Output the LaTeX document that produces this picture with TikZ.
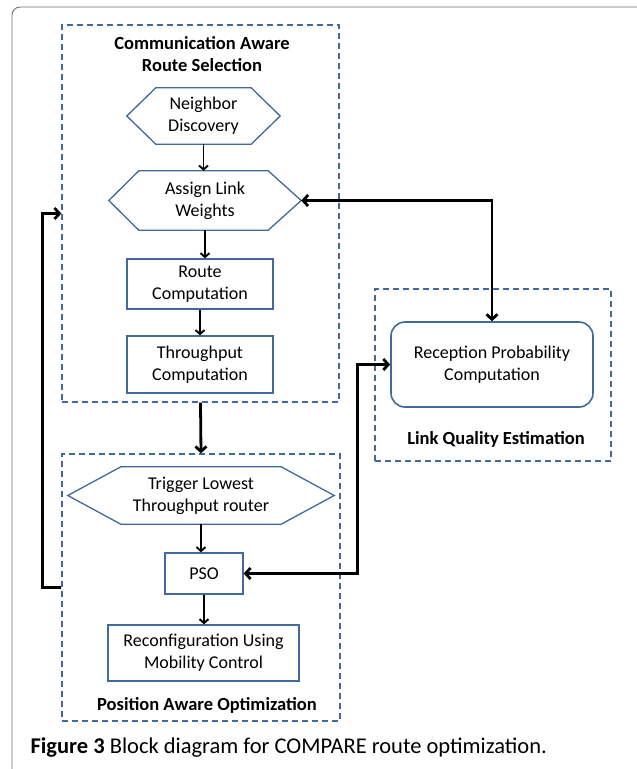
\documentclass[tikz,border=0pt]{standalone}
\usepackage{fontspec}
\setmainfont{Carlito}
\usetikzlibrary{arrows.meta}
\definecolor{bluebox}{RGB}{65,105,155}
\definecolor{framegray}{RGB}{110,110,110}
\begin{document}
\begin{tikzpicture}[x=1pt,y=-1pt,
  every node/.style={font=\fontsize{18}{22}\selectfont, align=center},
  dashbox/.style={draw=bluebox, line width=1.3pt, dash pattern=on 6pt off 4pt, inner sep=0pt, rectangle},
  stepbox/.style={draw=bluebox, line width=1.3pt, rectangle, inner sep=0pt},
  roundbox/.style={draw=bluebox, line width=1.6pt, rectangle, rounded corners=14pt, inner sep=0pt},
  hexbg/.style={inner sep=0pt, rectangle},
  hexline/.style={draw=bluebox, line width=1.3pt},
  title/.style={font=\fontsize{18.5}{22}\selectfont\bfseries},
  thinarrow/.style={draw=black, line width=1.9pt, -{Straight Barb[length=4pt,width=9pt]}},
  thickarrow/.style={draw=black, line width=2.8pt, -{Straight Barb[length=5pt,width=11pt]}},
  thickboth/.style={draw=black, line width=2.8pt, {Straight Barb[length=5pt,width=11pt]}-{Straight Barb[length=5pt,width=11pt]}}
]
\useasboundingbox (0,0) rectangle (637,769);
\fill[white] (0,0) rectangle (637,769);
% outer frame
\draw[framegray, line width=0.9pt, rounded corners=8pt] (12,800) -- (12,7) -- (660,7);

% dashed group boxes
\node[dashbox, minimum width=277pt, minimum height=377pt] (box1) at (200.5,213.5) {};
\node[dashbox, minimum width=278pt, minimum height=267pt] (box2) at (201,587.5) {};
\node[dashbox, minimum width=236pt, minimum height=172pt] (box3) at (493,375) {};

% titles
\node[title] (t1) at (202,54) {Communication Aware\\Route Selection};
\node[title] (t2) at (207,705) {Position Aware Optimization};
\node[title] (t3) at (496,439) {Link Quality Estimation};

% hexagons
\node[hexbg, minimum width=153pt, minimum height=56pt] (nd) at (203.5,116) {Neighbor\\Discovery};
\draw[hexline] (nd.west) -- ([xshift=29pt]nd.north west) -- ([xshift=-29pt]nd.north east) -- (nd.east) -- ([xshift=-29pt]nd.south east) -- ([xshift=29pt]nd.south west) -- cycle;

\node[hexbg, minimum width=192pt, minimum height=59pt] (alw) at (205,200.5) {Assign Link\\Weights};
\draw[hexline] (alw.west) -- ([xshift=30pt]alw.north west) -- ([xshift=-33pt]alw.north east) -- (alw.east) -- ([xshift=-33pt]alw.south east) -- ([xshift=30pt]alw.south west) -- cycle;

\node[hexbg, minimum width=266pt, minimum height=57pt] (tlt) at (201,495.5) {Trigger Lowest\\Throughput router};
\draw[hexline] (tlt.west) -- ([xshift=53pt]tlt.north west) -- ([xshift=-53pt]tlt.north east) -- (tlt.east) -- ([xshift=-53pt]tlt.south east) -- ([xshift=53pt]tlt.south west) -- cycle;

% rectangles
\node[stepbox, minimum width=146pt, minimum height=50pt] (rc) at (200,284) {Route\\Computation};
\node[stepbox, minimum width=146pt, minimum height=57pt] (tc) at (200,364.5) {Throughput\\Computation};
\node[stepbox, minimum width=78pt, minimum height=41pt] (pso) at (204,573.5) {PSO};
\node[stepbox, minimum width=191pt, minimum height=56pt] (rmc) at (203.5,653) {Reconfiguration Using\\Mobility Control};
\node[roundbox, minimum width=202pt, minimum height=85pt] (rpc) at (492,364.5) {Reception Probability\\Computation};

% thin arrows
\draw[thinarrow] (nd.south) -- (nd.south |- alw.north);
\draw[thinarrow] (alw.south) -- (alw.south |- rc.north);
\draw[thinarrow] (rc.south) -- (tc.north);
\draw[thinarrow] (tlt.south) -- (tlt.south |- pso.north);
\draw[thinarrow] (pso.south) -- (pso.south |- rmc.north);

% thick connectors
\draw[thickarrow] (box1.south) -- (box2.north);
\draw[thickboth] (alw.east) -| (rpc.north);
\draw[thickboth] (pso.east) -- ++(114,0) |- (rpc.west);
\draw[thickarrow] (box2.west) -- ++(-19,0) |- (box1.west);

% caption
\node[anchor=west, font=\fontsize{22.5}{26}\selectfont] (cap) at (27,748) {\textbf{Figure 3} Block diagram for COMPARE route optimization.};
\end{tikzpicture}
\end{document}
